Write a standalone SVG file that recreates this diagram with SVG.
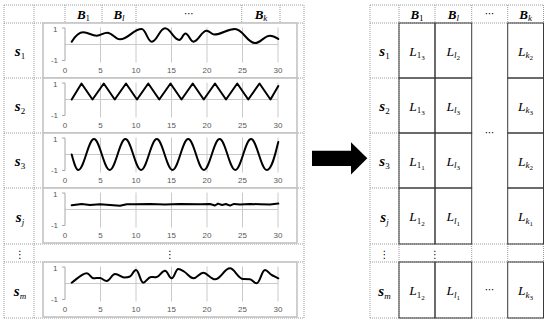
<svg xmlns="http://www.w3.org/2000/svg" xmlns:xlink="http://www.w3.org/1999/xlink" width="550" height="325" viewBox="0 0 550 325">
<style>
.dot{stroke:#9c9c9c;stroke-width:1;stroke-dasharray:1 1;fill:none}
.box{fill:#fff;stroke:#c4c4c4;stroke-width:1.6}
.grid{stroke:#cacaca;stroke-width:1;fill:none}
.yax{stroke:#a8a8a8;stroke-width:1;fill:none}
.curve{fill:none;stroke:#000;stroke-width:2;stroke-linejoin:round;stroke-linecap:round}
.ax{font-family:"Liberation Sans",Arial,sans-serif;font-size:8px;fill:#595959}
.s{font-family:"Liberation Serif","Times New Roman",serif;font-weight:bold;font-style:italic;font-size:15px;fill:#000}
.h{font-family:"Liberation Serif","Times New Roman",serif;font-weight:bold;font-style:italic;font-size:13px;fill:#000}
.L{font-family:"Liberation Serif","Times New Roman",serif;font-style:italic;font-size:13.5px;fill:#000}
.sub{font-size:9px;font-weight:normal;font-style:normal}
.subi{font-size:9px;font-weight:normal;font-style:italic}
.ss{font-size:7px;font-weight:normal;font-style:normal}
.sym{font-family:"DejaVu Sans",sans-serif;font-size:10px;fill:#000}
.cell{fill:none;stroke:#3a3a3a;stroke-width:1}
</style>
<defs>
<g id="chart">
<rect class="box" x="43" y="0" width="254" height="55"/>
<path class="grid" d="M100.5 4.5V39.5M136 4.5V39.5M171.5 4.5V39.5M207 4.5V39.5M242.5 4.5V39.5M278 4.5V39.5M65 21.5H278"/>
<path class="yax" d="M65 5V37.5M62 5H65M62 37.5H65"/>
<text class="ax" x="57.5" y="8.5" text-anchor="end">1</text>
<text class="ax" x="58" y="40" text-anchor="end">-1</text>
<g class="ax" text-anchor="middle">
<text x="65" y="50">0</text><text x="100.5" y="50">5</text><text x="136" y="50">10</text><text x="171.5" y="50">15</text><text x="207" y="50">20</text><text x="242.5" y="50">25</text><text x="278" y="50">30</text>
</g>
</g>
</defs>

<g id="left-table">
<path class="dot" d="M4 5H304M4 23H304M4 78H304M4 133H304M4 188H304M4 244H304M4 262H304M4 318H304M4 5V318M34 5V318M304 5V318M65 5V23M102 5V23M136 5V23M241.7 5V23M280 5V23"/>
<text class="h" x="83.5" y="18.5" text-anchor="middle">B<tspan class="sub" dy="2.5">1</tspan></text>
<text class="h" x="119" y="18.5" text-anchor="middle">B<tspan class="subi" dy="2.5">l</tspan></text>
<text class="sym" x="189" y="17" text-anchor="middle">⋯</text>
<text class="h" x="261" y="18.5" text-anchor="middle">B<tspan class="subi" dy="2.5">k</tspan></text>
<text class="sym" x="20" y="258" text-anchor="middle">⋮</text>
<text class="sym" x="170" y="258" text-anchor="middle">⋮</text>
</g>

<g id="row-s1">
<text class="s" x="20" y="56" text-anchor="middle">s<tspan class="sub" dy="3">1</tspan></text>
<use xlink:href="#chart" href="#chart" y="23"/>
<path class="curve" d="M71.7,41.7 C74,38 78,32.3 83.3,32.3 C88.7,32.3 91.3,35.7 96.7,35.7 C100.9,35.7 103.1,32.7 107.3,32.7 C112.4,32.7 114.9,39.3 120,39.3 C128.7,39.3 133,29 141.7,29 C145.7,29 147.7,41.7 151.7,41.7 C157,41.7 159.7,28.3 165,28.3 C170.7,28.3 173.6,40 179.3,40 C181.8,40 183,33.5 185.5,33.5 C188.6,33.5 190.2,41.7 193.3,41.7 C198.7,41.7 201.3,30.7 206.7,30.7 C209.6,30.7 211.1,34.5 214,34.5 C222.4,34.5 226.6,29 235,29 C243,29 247,43 255,43 C261,43 264,35.7 270,35.7 C273.5,35.7 276,37.5 278.3,39"/>
</g>

<g id="row-s2">
<text class="s" x="20" y="111" text-anchor="middle">s<tspan class="sub" dy="3">2</tspan></text>
<use xlink:href="#chart" href="#chart" y="78"/>
<polyline class="curve" points="71.7,99.5 81.5,83.5 92.5,99.5 103.75,83.5 114.75,99.5 126,83.5 137,99.5 148.25,83.5 159.25,99.5 170.5,83.5 181.5,99.5 192.75,83.5 203.75,99.5 215,83.5 226,99.5 237.25,83.5 248.25,99.5 259.5,83.5 270.5,99.5 278.3,86"/>
</g>

<g id="row-s3">
<text class="s" x="20" y="166" text-anchor="middle">s<tspan class="sub" dy="3">3</tspan></text>
<use xlink:href="#chart" href="#chart" y="133"/>
<path class="curve" d="M71.7,154.5 C74,163 76,170 78.3,170 C84,170 88.3,139 94,139 S104,170 109.7,170 S119.7,139 125.4,139 S135.4,170 141.1,170 S151.1,139 156.8,139 S166.8,170 172.5,170 S182.5,139 188.2,139 S198.2,170 203.9,170 S213.9,139 219.6,139 S229.6,170 235.3,170 S245.3,139 251,139 S261,170 266.7,170 C272.4,170 276,150 278.3,142"/>
</g>

<g id="row-sj">
<text class="s" x="20" y="222" text-anchor="middle">s<tspan class="subi" dy="3">j</tspan></text>
<use xlink:href="#chart" href="#chart" y="188"/>
<polyline class="curve" points="71.7,205.2 81.7,204 90,205 100,204.3 110,205 120,205.8 126.7,204.3 135,204.3 150,204 165,204.5 180,204 200,204.3 210,204 215,205.5 218,203.6 222,205 226,204 230,205.6 234,203.9 240,204.6 250,204 260,204.3 270,204.5 278.3,203.6"/>
</g>

<g id="row-sm">
<text class="s" x="20" y="296" text-anchor="middle">s<tspan class="subi" dy="3">m</tspan></text>
<use xlink:href="#chart" href="#chart" y="262"/>
<path class="curve" d="M71.7,282.7 C77,279 82,273.3 86.7,273.3 C89.5,273.3 91,278.3 93.5,278.3 C96,278.3 98,277.8 100,278 C102.5,278.2 104,281 106.7,281 C110,281 111.7,274 115,274 C119,274 121,277.5 124,277.5 C126.5,277.5 128,277.5 130,276.5 C132.5,275 133.5,270 136,270 C139,270 140.3,282.7 143.3,282.7 C146,282.7 148,277 151,277 C153,277 154.5,277.5 156.7,277 C160,276.5 161.5,270.7 165,270.7 C167.7,270.7 169,278.3 171.7,278.3 C174.4,278.3 175.6,269 178.3,269 C180,269 181.5,270 184,271.5 C188,274 190,278.3 193.3,278.3 C197.3,278.3 199.3,272.7 203.3,272.7 C207,272.7 211,279.3 215,279.3 C221,279.3 224,268.3 230,268.3 C234.5,268.3 238,279 243.3,279 C246,279 248,279 250,279.3 C252.5,279.6 254,283.3 256.7,283.3 C260,283.3 261.7,270 265,270 C267.7,270 269,274 271.7,275 C274,276 276,277.3 278.3,278.3"/>
</g>

<g id="arrow">
<polygon points="312,150.7 351,150.7 351,142.3 367.3,158.3 351,174.5 351,166 312,166" fill="#000"/>
</g>

<g id="right-table">
<path class="dot" d="M370 5H543.5M370 23H543.5M370 78H399M370 133H399M370 188H399M370 244H543.5M370 262H543.5M370 318H543.5M370 5V318M399 5V318M435 5V23M471.7 5V23M507.7 5V23M543.5 5V23M471.7 244V262M507.7 244V262M543.5 244V262"/>
<g class="cell">
<rect x="399" y="23" width="36" height="55"/><rect x="435" y="23" width="36.7" height="55"/><rect x="507.7" y="23" width="35.8" height="55"/>
<rect x="399" y="78" width="36" height="55"/><rect x="435" y="78" width="36.7" height="55"/><rect x="507.7" y="78" width="35.8" height="55"/>
<rect x="399" y="133" width="36" height="55"/><rect x="435" y="133" width="36.7" height="55"/><rect x="507.7" y="133" width="35.8" height="55"/>
<rect x="399" y="188" width="36" height="56"/><rect x="435" y="188" width="36.7" height="56"/><rect x="507.7" y="188" width="35.8" height="56"/>
<rect x="399" y="262" width="36" height="56"/><rect x="435" y="262" width="36.7" height="56"/><rect x="507.7" y="262" width="35.8" height="56"/>
</g>
<text class="h" x="417" y="18.5" text-anchor="middle">B<tspan class="sub" dy="2.5">1</tspan></text>
<text class="h" x="453.3" y="18.5" text-anchor="middle">B<tspan class="subi" dy="2.5">l</tspan></text>
<text class="sym" x="489.7" y="17" text-anchor="middle">⋯</text>
<text class="h" x="525.6" y="18.5" text-anchor="middle">B<tspan class="subi" dy="2.5">k</tspan></text>

<text class="s" x="384.5" y="56" text-anchor="middle">s<tspan class="sub" dy="3">1</tspan></text>
<text class="s" x="384.5" y="111" text-anchor="middle">s<tspan class="sub" dy="3">2</tspan></text>
<text class="s" x="384.5" y="166" text-anchor="middle">s<tspan class="sub" dy="3">3</tspan></text>
<text class="s" x="384.5" y="222" text-anchor="middle">s<tspan class="subi" dy="3">j</tspan></text>
<text class="s" x="384.5" y="296" text-anchor="middle">s<tspan class="subi" dy="3">m</tspan></text>

<text class="L" x="417" y="55.5" text-anchor="middle">L<tspan class="sub" dy="2.5">1</tspan><tspan class="ss" dy="2">3</tspan></text>
<text class="L" x="453.3" y="55.5" text-anchor="middle">L<tspan class="subi" dy="2.5">l</tspan><tspan class="ss" dy="2">2</tspan></text>
<text class="L" x="525.6" y="55.5" text-anchor="middle">L<tspan class="subi" dy="2.5">k</tspan><tspan class="ss" dy="2">2</tspan></text>

<text class="L" x="417" y="110.5" text-anchor="middle">L<tspan class="sub" dy="2.5">1</tspan><tspan class="ss" dy="2">3</tspan></text>
<text class="L" x="453.3" y="110.5" text-anchor="middle">L<tspan class="subi" dy="2.5">l</tspan><tspan class="ss" dy="2">3</tspan></text>
<text class="L" x="525.6" y="110.5" text-anchor="middle">L<tspan class="subi" dy="2.5">k</tspan><tspan class="ss" dy="2">3</tspan></text>

<text class="L" x="417" y="165.5" text-anchor="middle">L<tspan class="sub" dy="2.5">1</tspan><tspan class="ss" dy="2">1</tspan></text>
<text class="L" x="453.3" y="165.5" text-anchor="middle">L<tspan class="subi" dy="2.5">l</tspan><tspan class="ss" dy="2">3</tspan></text>
<text class="L" x="525.6" y="165.5" text-anchor="middle">L<tspan class="subi" dy="2.5">k</tspan><tspan class="ss" dy="2">2</tspan></text>

<text class="L" x="417" y="221" text-anchor="middle">L<tspan class="sub" dy="2.5">1</tspan><tspan class="ss" dy="2">2</tspan></text>
<text class="L" x="453.3" y="221" text-anchor="middle">L<tspan class="subi" dy="2.5">l</tspan><tspan class="ss" dy="2">1</tspan></text>
<text class="L" x="525.6" y="221" text-anchor="middle">L<tspan class="subi" dy="2.5">k</tspan><tspan class="ss" dy="2">1</tspan></text>

<text class="L" x="417" y="295" text-anchor="middle">L<tspan class="sub" dy="2.5">1</tspan><tspan class="ss" dy="2">2</tspan></text>
<text class="L" x="453.3" y="295" text-anchor="middle">L<tspan class="subi" dy="2.5">l</tspan><tspan class="ss" dy="2">1</tspan></text>
<text class="L" x="525.6" y="295" text-anchor="middle">L<tspan class="subi" dy="2.5">k</tspan><tspan class="ss" dy="2">3</tspan></text>

<text class="sym" x="489.7" y="136" text-anchor="middle">⋯</text>
<text class="sym" x="489.7" y="293" text-anchor="middle">⋯</text>
<text class="sym" x="384.5" y="258" text-anchor="middle">⋮</text>
<text class="sym" x="435" y="258" text-anchor="middle">⋮</text>
</g>
</svg>
